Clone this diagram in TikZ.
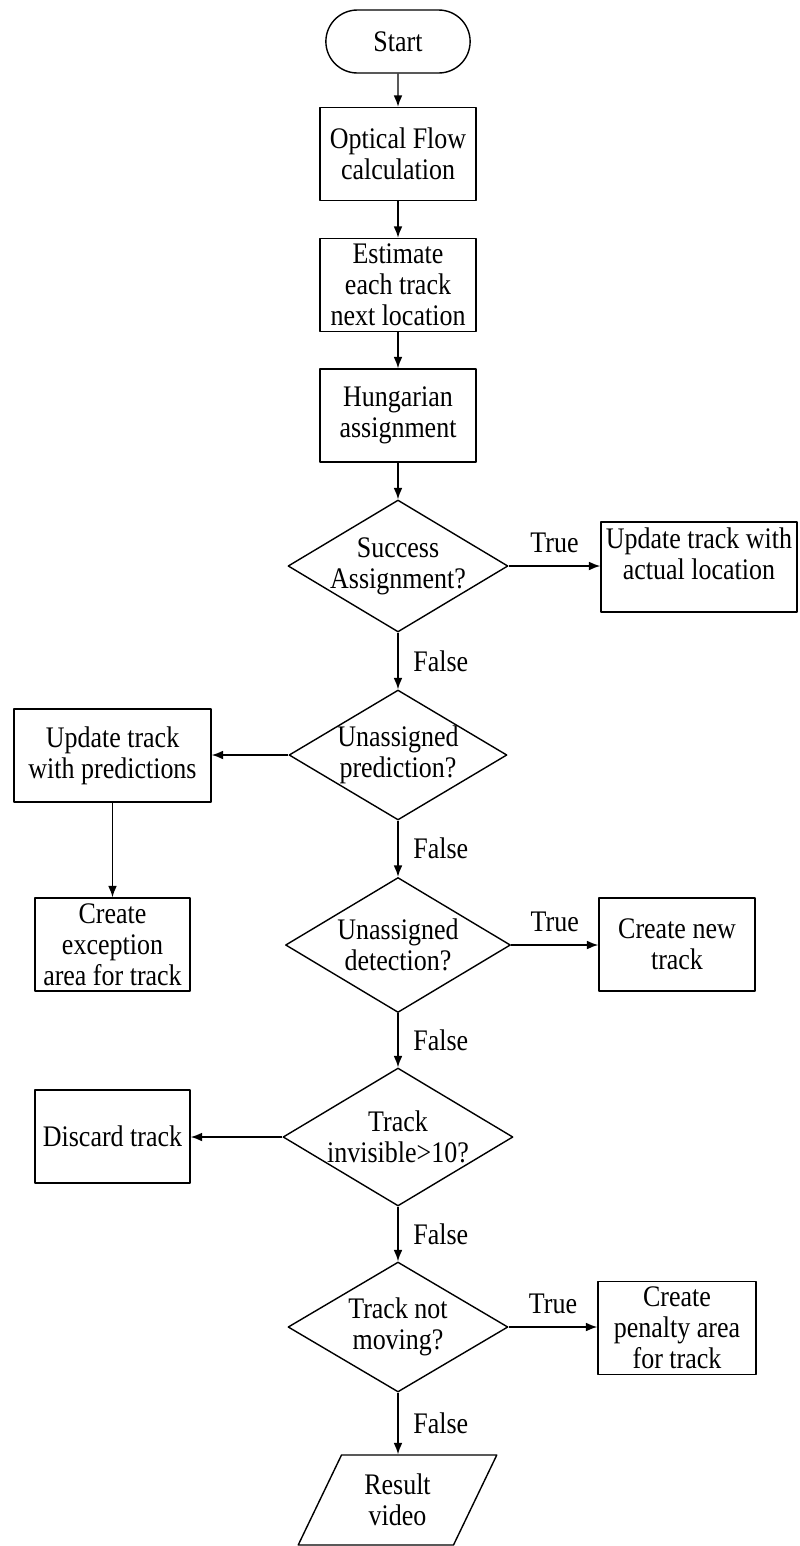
\documentclass[tikz,border=0pt]{standalone}
\usepackage{fontspec}
\setmainfont{Liberation Serif}[FakeStretch=0.87]
\usetikzlibrary{shapes.geometric,shapes.misc,arrows.meta}
\begin{document}
\begin{tikzpicture}[>={Latex[length=6.5pt,width=5pt]},line join=round,x=0.02cm,y=-0.02cm,line width=0.8pt,
	font=\fontsize{17}{17.6}\selectfont,every node/.append style={align=center},
	term/.style={draw,rounded rectangle,minimum width=3.12cm,minimum height=1.26cm},
	proc/.style={draw,rectangle,inner sep=1pt,minimum width=3.12cm,minimum height=1.86cm},
	dec/.style={draw,diamond,inner sep=0pt,minimum width=4.4cm,minimum height=2.64cm},
	io/.style={draw,trapezium,trapezium left angle=63.7,trapezium right angle=116.3,
		trapezium stretches=true,inner sep=0pt,minimum width=3.98cm,minimum height=1.8cm}]
	\useasboundingbox (0,0) rectangle (799,1546);
	% main column
	\node[term] (start) at (398,41.5) {Start};
	\node[proc] (flow) at (398,154) {Optical Flow\\calculation};
	\node[proc] (est) at (398,285) {Estimate\\each track\\next location};
	\node[proc] (hung) at (398,415.5) {Hungarian\\assignment};
	\node[dec] (succ) at (398,566) {};
	\node (succtxt) at (succ) {Success\\Assignment?};
	\node[dec,minimum width=4.36cm,minimum height=2.6cm] (unpred) at (398,755) {};
	\node (unpredtxt) at (unpred) {Unassigned\\prediction?};
	\node[dec,minimum width=4.5cm,minimum height=2.7cm] (undet) at (398,945) {};
	\node (undettxt) at (undet) {Unassigned\\detection?};
	\node[dec,minimum width=4.6cm,minimum height=2.76cm] (invis) at (398,1137) {};
	\node (invistxt) at (invis) {Track\\invisible>10?};
	\node[dec,minimum height=2.6cm] (notmov) at (398,1327) {};
	\node (notmovtxt) at (notmov) {Track not\\moving?};
	\node[io] (res) at (397.5,1500) {Result\\video};
	% side boxes
	\node[proc,minimum width=3.92cm,minimum height=1.8cm] (actual) at (699,567) {Update track with\\actual location\\[-8pt]\strut};
	\node[proc,minimum width=3.94cm] (updpred) at (112.5,755.5) {Update track\\with predictions};
	\node[proc,minimum width=3.1cm] (exc) at (112.5,944.5) {Create\\exception\\area for track};
	\node[proc] (newtr) at (677,944.5) {Create new\\track};
	\node[proc,minimum width=3.1cm] (discard) at (112.5,1136.5) {Discard track};
	\node[proc,minimum width=3.16cm] (penal) at (677,1328) {Create\\penalty area\\for track};
	% connectors
	\foreach \a/\b in {start/flow,flow/est,est/hung,hung/succ,updpred/exc}
		\draw[->] (\a) -- (\b);
	\foreach \a/\b in {succ/unpred,unpred/undet,undet/invis,invis/notmov,notmov/res}
		\draw[->] (\a.south) -- node[right,xshift=5pt]{False} (\a.south |- \b.north);
	\foreach \a/\b in {succ/actual,undet/newtr,notmov/penal}
		\draw[->] (\a.east) -- node[above,yshift=4pt]{True} (\a.east -| \b.west);
	\foreach \a/\b in {unpred/updpred,invis/discard}
		\draw[->] (\a.west) -- (\a.west -| \b.east);
\end{tikzpicture}
\end{document}
